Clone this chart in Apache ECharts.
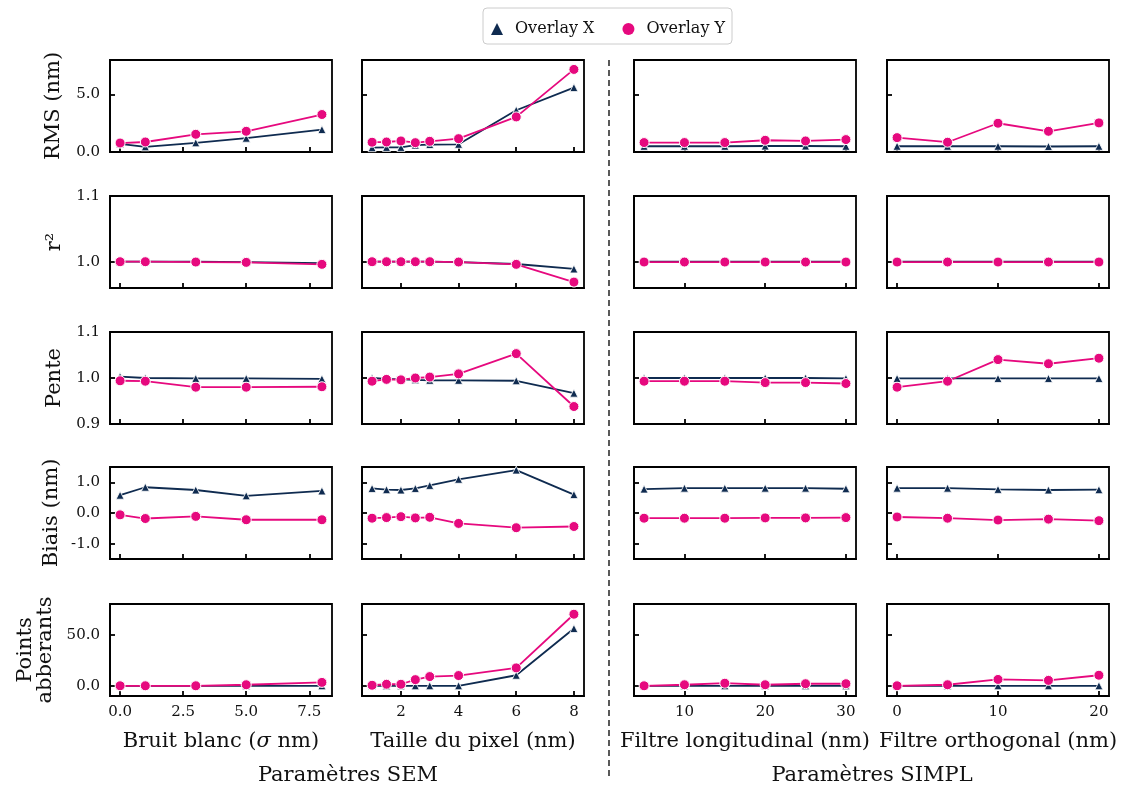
<!DOCTYPE html>
<html><head><meta charset="utf-8">
<script src="https://cdn.jsdelivr.net/npm/echarts@6/dist/echarts.min.js"></script>
<style>html,body{margin:0;padding:0;background:#fff}#c{width:1126px;height:789px}</style>
</head><body><div id="c"></div>
<script>
// ---- x values (one per column) ----
const xNoise = [0, 1, 3, 5, 8];
const xPixel = [1, 1.5, 2, 2.5, 3, 4, 6, 8];
const xLong  = [5, 10, 15, 20, 25, 30];
const xOrth  = [0, 5, 10, 15, 20];

// ---- RMS (nm) ----
const rmsX_noise = [0.70, 0.45, 0.80, 1.20, 1.95];
const rmsY_noise = [0.78, 0.87, 1.54, 1.80, 3.26];
const rmsX_pixel = [0.38, 0.40, 0.40, 0.60, 0.65, 0.67, 3.63, 5.60];
const rmsY_pixel = [0.85, 0.87, 0.96, 0.81, 0.93, 1.16, 3.05, 7.18];
const rmsX_long  = [0.50, 0.50, 0.50, 0.52, 0.52, 0.50];
const rmsY_long  = [0.82, 0.82, 0.82, 1.02, 0.96, 1.08];
const rmsX_orth  = [0.50, 0.50, 0.50, 0.48, 0.50];
const rmsY_orth  = [1.25, 0.85, 2.50, 1.80, 2.53];

// ---- r² ----
const r2X_noise = [1.000, 1.000, 1.000, 0.9995, 0.998];
const r2Y_noise = [1.000, 1.000, 0.9995, 0.999, 0.996];
const r2X_pixel = [1.000, 1.000, 1.000, 1.000, 1.000, 0.9995, 0.9965, 0.989];
const r2Y_pixel = [1.000, 1.000, 1.000, 1.000, 1.000, 0.9995, 0.996, 0.969];
const r2X_long  = [1.000, 1.000, 1.000, 1.000, 1.000, 1.000];
const r2Y_long  = [0.9995, 0.9995, 0.9995, 0.9995, 0.9995, 0.9995];
const r2X_orth  = [1.000, 1.000, 1.000, 1.000, 1.000];
const r2Y_orth  = [0.9995, 0.9995, 0.9995, 0.9995, 0.9995];

// ---- Pente ----
const penteX_noise = [1.003, 1.000, 0.999, 0.999, 0.998];
const penteY_noise = [0.994, 0.993, 0.980, 0.980, 0.981];
const penteX_pixel = [1.000, 0.998, 0.997, 0.996, 0.995, 0.995, 0.994, 0.967];
const penteY_pixel = [0.993, 0.997, 0.996, 1.000, 1.002, 1.009, 1.053, 0.938];
const penteX_long  = [1.000, 1.000, 1.000, 1.000, 1.000, 0.999];
const penteY_long  = [0.993, 0.993, 0.993, 0.990, 0.990, 0.988];
const penteX_orth  = [0.999, 0.999, 0.999, 0.999, 0.999];
const penteY_orth  = [0.980, 0.993, 1.040, 1.031, 1.043];

// ---- Biais (nm) ----
const biaisX_noise = [0.58, 0.84, 0.75, 0.56, 0.72];
const biaisY_noise = [-0.06, -0.18, -0.11, -0.22, -0.22];
const biaisX_pixel = [0.80, 0.76, 0.75, 0.80, 0.90, 1.10, 1.40, 0.60];
const biaisY_pixel = [-0.17, -0.15, -0.12, -0.16, -0.14, -0.34, -0.48, -0.44];
const biaisX_long  = [0.78, 0.81, 0.81, 0.81, 0.81, 0.79];
const biaisY_long  = [-0.17, -0.17, -0.17, -0.16, -0.16, -0.15];
const biaisX_orth  = [0.81, 0.81, 0.77, 0.75, 0.76];
const biaisY_orth  = [-0.13, -0.17, -0.23, -0.20, -0.25];

// ---- Points abberants ----
const ptsX_noise = [0, 0, 0, 0, 0];
const ptsY_noise = [0, 0, 0, 1, 3.3];
const ptsX_pixel = [0, 0, 0, 0, 0, 0, 10.3, 56];
const ptsY_pixel = [0.5, 1.5, 1.5, 6, 9, 10, 17.5, 70];
const ptsX_long  = [0, 0, 0, 0, 0, 0];
const ptsY_long  = [0, 1, 2.5, 1, 2, 2];
const ptsX_orth  = [0, 0, 0, 0, 0];
const ptsY_orth  = [0, 1, 6.2, 5.3, 10.3];

// ---- tick labels ----
const xTicksNoise = [0, 2.5, 5, 7.5];
const xTicksPixel = [2, 4, 6, 8];
const xTicksLong  = [10, 20, 30];
const xTicksOrth  = [0, 10, 20];
const yTicksRMS   = [0, 5];
const yTicksR2    = [1.0, 1.1];
const yTicksPente = [0.9, 1.0, 1.1];
const yTicksBiais = [-1, 0, 1];
const yTicksPts   = [0, 50];

// ---- labels ----
const rowLabels = ['RMS (nm)', 'r²', 'Pente', 'Biais (nm)', 'Points\nabberants'];
const colLabels = ['Bruit blanc ({i|σ} nm)', 'Taille du pixel (nm)', 'Filtre longitudinal (nm)', 'Filtre orthogonal (nm)'];
const groupLabels = ['Paramètres SEM', 'Paramètres SIMPL'];
const seriesNames = ['Overlay X', 'Overlay Y'];

// ---- assemble ----
const xCols = [xNoise, xPixel, xLong, xOrth];
const xTicks = [xTicksNoise, xTicksPixel, xTicksLong, xTicksOrth];
const yTicks = [yTicksRMS, yTicksR2, yTicksPente, yTicksBiais, yTicksPts];
const dataX = [
  [rmsX_noise, rmsX_pixel, rmsX_long, rmsX_orth],
  [r2X_noise, r2X_pixel, r2X_long, r2X_orth],
  [penteX_noise, penteX_pixel, penteX_long, penteX_orth],
  [biaisX_noise, biaisX_pixel, biaisX_long, biaisX_orth],
  [ptsX_noise, ptsX_pixel, ptsX_long, ptsX_orth]
];
const dataY = [
  [rmsY_noise, rmsY_pixel, rmsY_long, rmsY_orth],
  [r2Y_noise, r2Y_pixel, r2Y_long, r2Y_orth],
  [penteY_noise, penteY_pixel, penteY_long, penteY_orth],
  [biaisY_noise, biaisY_pixel, biaisY_long, biaisY_orth],
  [ptsY_noise, ptsY_pixel, ptsY_long, ptsY_orth]
];

// layout / style
const FONT = '"DejaVu Serif", "Liberation Serif", serif';
const TXT = '#111';
const NAVY = '#0f2b50';
const PINK = '#e6097e';
const gLeft = [110, 362, 634, 887];
const gTop = [60, 196, 332, 467, 604];
const gW = 222, gH = 92;
const xRange = [[-0.4, 8.4], [0.65, 8.35], [3.75, 31.25], [-1, 21]];
const yRange = [[0, 8], [0.96, 1.1], [0.9, 1.1], [-1.5, 1.5], [-10, 80]];
const xFmt = [v => v.toFixed(1), v => String(v), v => String(v), v => String(v)];

const grids = [], xAxes = [], yAxes = [], series = [];
for (let r = 0; r < 5; r++) {
  for (let c = 0; c < 4; c++) {
    const i = r * 4 + c;
    grids.push({left: gLeft[c], top: gTop[r], width: gW, height: gH, show: true,
      borderColor: '#000', borderWidth: 1.8, backgroundColor: 'rgba(0,0,0,0)'});
    xAxes.push({gridIndex: i, type: 'value', min: xRange[c][0], max: xRange[c][1],
      axisLine: {show: true, onZero: false, lineStyle: {color: '#000', width: 1.8}}, splitLine: {show: false},
      axisTick: {show: true, inside: true, length: 5, customValues: xTicks[c], lineStyle: {color: '#000', width: 1.8}},
      axisLabel: {show: r === 4, customValues: xTicks[c], formatter: xFmt[c], margin: 9,
        fontFamily: FONT, fontSize: 15, color: TXT}});
    yAxes.push({gridIndex: i, type: 'value', min: yRange[r][0], max: yRange[r][1],
      axisLine: {show: true, onZero: false, lineStyle: {color: '#000', width: 1.8}}, splitLine: {show: false},
      axisTick: {show: true, inside: true, length: 5, customValues: yTicks[r], lineStyle: {color: '#000', width: 1.8}},
      axisLabel: {show: c === 0, customValues: yTicks[r], formatter: v => v.toFixed(1), margin: 10,
        fontFamily: FONT, fontSize: 15, color: TXT}});
    const xs = xCols[c];
    series.push({name: seriesNames[0], type: 'line', xAxisIndex: i, yAxisIndex: i,
      data: xs.map((x, k) => [x, dataX[r][c][k]]),
      symbol: 'triangle', symbolSize: 8, showSymbol: true,
      lineStyle: {color: NAVY, width: 1.8},
      itemStyle: {color: NAVY, borderColor: '#fff', borderWidth: 0.8}, z: 2});
    series.push({name: seriesNames[1], type: 'line', xAxisIndex: i, yAxisIndex: i,
      data: xs.map((x, k) => [x, dataY[r][c][k]]),
      symbol: 'circle', symbolSize: 10, showSymbol: true,
      lineStyle: {color: PINK, width: 1.8},
      itemStyle: {color: PINK, borderColor: '#fff', borderWidth: 1}, z: 3});
  }
}

const graphics = [];
graphics.push({type: 'rect', shape: {x: 483, y: 8, width: 249, height: 36, r: 4},
  style: {fill: '#fff', stroke: '#cccccc', lineWidth: 1}, z: -1});
graphics.push({type: 'line', shape: {x1: 609, y1: 60, x2: 609, y2: 780},
  style: {stroke: '#000', lineWidth: 1.3, lineDash: [6, 4]}});
const rowLabelX = [54, 55, 55, 52, 36];
for (let r = 0; r < 5; r++) {
  graphics.push({type: 'text', x: rowLabelX[r], y: gTop[r] + gH / 2, rotation: Math.PI / 2,
    style: {text: rowLabels[r], font: '21px ' + FONT, fill: TXT,
      align: 'center', verticalAlign: 'middle', textAlign: 'center', textVerticalAlign: 'middle', lineHeight: 20}});
}
for (let c = 0; c < 4; c++) {
  graphics.push({type: 'text', x: gLeft[c] + gW / 2, y: 742,
    style: {text: colLabels[c], font: '21px ' + FONT, fill: TXT,
      align: 'center', verticalAlign: 'middle', textAlign: 'center', textVerticalAlign: 'middle',
      rich: {i: {fontStyle: 'italic', fontFamily: FONT, fontSize: 21, fill: TXT, color: TXT}}}});
}
const groupX = [348, 872];
for (let g = 0; g < 2; g++) {
  graphics.push({type: 'text', x: groupX[g], y: 776,
    style: {text: groupLabels[g], font: '21px ' + FONT, fill: TXT,
      align: 'center', verticalAlign: 'middle', textAlign: 'center', textVerticalAlign: 'middle'}});
}

const chart = echarts.init(document.getElementById('c'), null, {renderer: 'canvas'});
chart.setOption({
  animation: false,
  backgroundColor: '#fff',
  legend: {left: 491, top: 21, padding: 0, itemWidth: 12, itemHeight: 12, itemGap: 28,
    data: [{name: seriesNames[0], icon: 'triangle'}, {name: seriesNames[1], icon: 'circle'}],
    itemStyle: {borderWidth: 0},
    textStyle: {fontFamily: FONT, fontSize: 16, color: TXT, padding: [0, 0, 0, 7]}},
  grid: grids, xAxis: xAxes, yAxis: yAxes, series: series, graphic: graphics
});
</script></body></html>
